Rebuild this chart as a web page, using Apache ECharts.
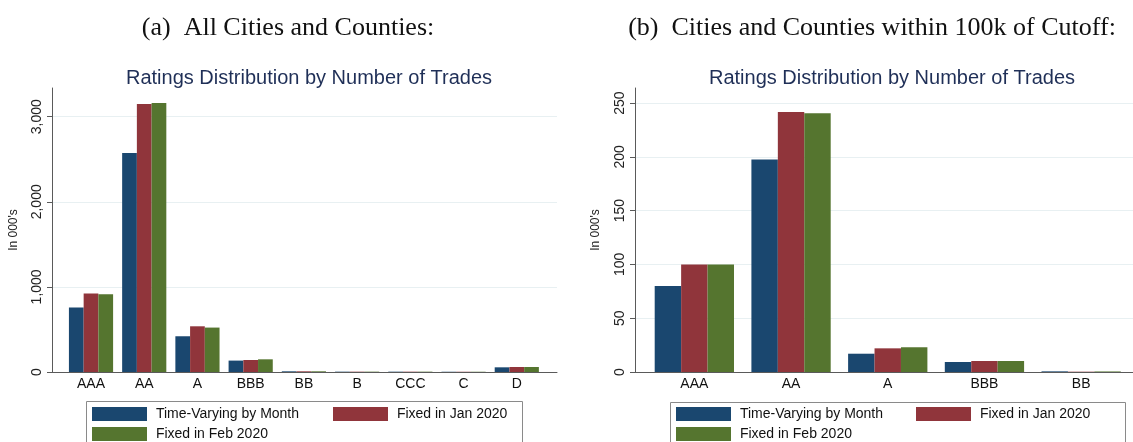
<!DOCTYPE html>
<html>
<head>
<meta charset="utf-8">
<script src="https://cdn.jsdelivr.net/npm/echarts@6/dist/echarts.min.js"></script>
<style>
  html, body { margin: 0; padding: 0; background: #fff; }
  #chart { width: 1133px; height: 442px; }
</style>
</head>
<body>
<div id="chart"></div>
<script>
// panel (a): all cities and counties
const categoriesAll = ["AAA", "AA", "A", "BBB", "BB", "B", "CCC", "C", "D"]
const timeVaryingAll = [758, 2573, 420, 134, 8, 4, 4, 3, 55]
const fixedJanAll = [922, 3149, 537, 141, 8, 4, 4, 3, 59]
const fixedFebAll = [914, 3161, 522, 149, 8, 4, 4, 3, 59]
const ticksAll = [0, 1000, 2000, 3000]

// panel (b): within 100k of cutoff
const categoriesCut = ["AAA", "AA", "A", "BBB", "BB"]
const timeVaryingCut = [80, 197.5, 17, 9.3, 0.6]
const fixedJanCut = [100, 241.7, 22, 10.2, 0.3]
const fixedFebCut = [100, 240.5, 23, 10.2, 0.5]
const ticksCut = [0, 50, 100, 150, 200, 250]

const seriesNames = ["Time-Varying by Month", "Fixed in Jan 2020", "Fixed in Feb 2020"]
const colors = ["#1a476f", "#90353b", "#55752f"]

const sans = "'Liberation Sans', Arial, sans-serif"
const serif = "'Liberation Serif', 'DejaVu Serif', serif"
const axisColor = "#5a5a5a"
const gridColor = "#e8f0f2"

const plotTop = 88
const plotHeight = 284

// frame axes: y axis with ticks + grid lines, and the baseline
const frameY = (max, interval, ticks) => ({
  type: "value",
  min: 0,
  max: max,
  interval: interval,
  axisLine: { show: true, lineStyle: { color: axisColor } },
  axisTick: { show: true, length: 5, customValues: ticks, lineStyle: { color: axisColor } },
  axisLabel: {
    rotate: 90,
    margin: 8,
    customValues: ticks,
    color: "#222",
    fontFamily: sans,
    fontSize: 14,
    formatter: (v) => v.toLocaleString("en-US")
  },
  splitLine: { show: true, lineStyle: { color: gridColor, width: 1 } },
  name: "In 000's",
  nameLocation: "middle",
  nameGap: 32,
  nameTextStyle: { color: "#222", fontFamily: sans, fontSize: 12 }
})
const frameX = (gridIndex) => ({
  gridIndex,
  type: "value",
  min: 0,
  max: 1,
  axisLine: { show: true, lineStyle: { color: axisColor } },
  axisTick: { show: false },
  axisLabel: { show: false },
  splitLine: { show: false }
})
const barX = (gridIndex, cats) => ({
  gridIndex,
  type: "category",
  data: cats,
  axisLine: { show: false },
  axisTick: { show: false },
  axisLabel: { margin: 5, color: "#111", fontFamily: sans, fontSize: 14, interval: 0 }
})
const barY = (gridIndex, max) => ({
  gridIndex,
  type: "value",
  min: 0,
  max: max,
  show: false,
  splitLine: { show: false }
})
const bars = (axisIndex, values, i, gap) => ({
  name: seriesNames[i],
  type: "bar",
  xAxisIndex: axisIndex,
  yAxisIndex: axisIndex,
  data: values,
  barGap: "0%",
  barCategoryGap: gap,
  itemStyle: { color: colors[i] },
  emphasis: { disabled: true },
  animation: false
})
const legendAt = (left, names) => ({
  left: left,
  top: 407,
  orient: "vertical",
  padding: 0,
  itemWidth: 55,
  itemHeight: 14,
  itemGap: 6,
  icon: "rect",
  selectedMode: false,
  data: names,
  formatter: " {name}",
  textStyle: { color: "#111", fontFamily: sans, fontSize: 14 }
})

const chart = echarts.init(document.getElementById("chart"))
chart.setOption({
  animation: false,
  title: [
    { text: "(a)  All Cities and Counties:", left: 283, top: 10, textAlign: "center",
      textStyle: { fontFamily: serif, fontSize: 26, fontWeight: "normal", color: "#111" } },
    { text: "(b)  Cities and Counties within 100k of Cutoff:", left: 867, top: 10, textAlign: "center",
      textStyle: { fontFamily: serif, fontSize: 26, fontWeight: "normal", color: "#111" } },
    { text: "Ratings Distribution by Number of Trades", left: 304, top: 63, textAlign: "center",
      textStyle: { fontFamily: sans, fontSize: 20, fontWeight: "normal", color: "#1f2f57" } },
    { text: "Ratings Distribution by Number of Trades", left: 887, top: 63, textAlign: "center",
      textStyle: { fontFamily: sans, fontSize: 20, fontWeight: "normal", color: "#1f2f57" } }
  ],
  grid: [
    { left: 52, top: plotTop, width: 505, height: plotHeight },
    { left: 64.4, top: plotTop, width: 479, height: plotHeight },
    { left: 635, top: plotTop, width: 498, height: plotHeight },
    { left: 646, top: plotTop, width: 483.5, height: plotHeight }
  ],
  xAxis: [frameX(0), barX(1, categoriesAll), frameX(2), barX(3, categoriesCut)],
  yAxis: [
    Object.assign({ gridIndex: 0 }, frameY(3337, 1000, ticksAll)),
    barY(1, 3337),
    Object.assign({ gridIndex: 2 }, frameY(264, 50, ticksCut), { nameGap: 33 }),
    barY(3, 264)
  ],
  legend: [
    legendAt(92, [seriesNames[0], seriesNames[2]]),
    legendAt(333, [seriesNames[1]]),
    legendAt(676, [seriesNames[0], seriesNames[2]]),
    legendAt(916, [seriesNames[1]])
  ],
  graphic: [
    { type: "rect", shape: { x: 86.5, y: 401.5, width: 436, height: 60 },
      style: { fill: "none", stroke: "#8a8a8a", lineWidth: 1 }, silent: true },
    { type: "rect", shape: { x: 670.5, y: 402.5, width: 455, height: 60 },
      style: { fill: "none", stroke: "#8a8a8a", lineWidth: 1 }, silent: true }
  ],
  series: [
    bars(1, timeVaryingAll, 0, "17%"),
    bars(1, fixedJanAll, 1, "17%"),
    bars(1, fixedFebAll, 2, "17%"),
    bars(3, timeVaryingCut, 0, "18%"),
    bars(3, fixedJanCut, 1, "18%"),
    bars(3, fixedFebCut, 2, "18%")
  ]
})
</script>
</body>
</html>
